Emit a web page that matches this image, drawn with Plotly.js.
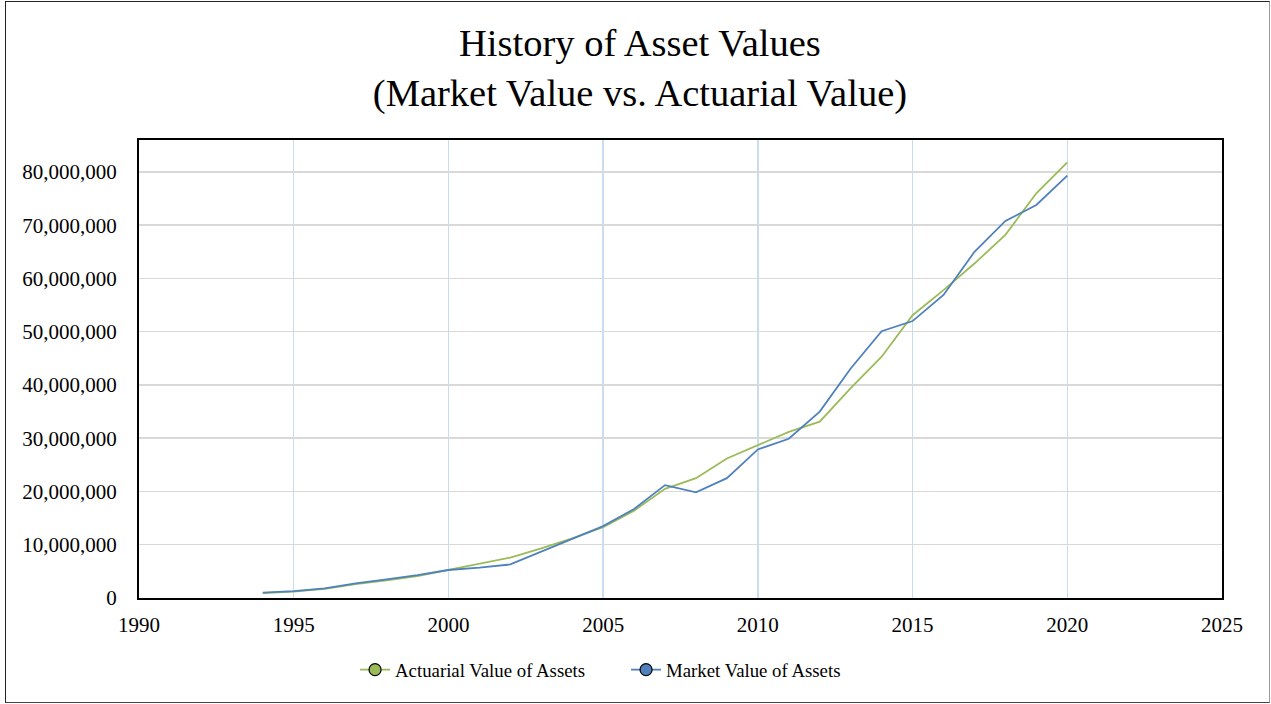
<!DOCTYPE html>
<html>
<head>
<meta charset="utf-8">
<script src="https://cdn.plot.ly/plotly-3.0.1.min.js"></script>
<style>
  html, body { margin: 0; padding: 0; background: #ffffff; }
  #wrap { position: relative; width: 1271px; height: 704px; }
  #chart { position: absolute; left: 0; top: 0; width: 1271px; height: 704px; }
  #frame { position: absolute; left: 5px; top: 1px; width: 1263px; height: 700px;
           border: 1.5px solid #222; border-right-color: #999; border-bottom-color: #444; pointer-events: none; }
</style>
</head>
<body>
<div id="wrap">
  <div id="chart"></div>
  <div id="frame"></div>
</div>
<script>
const years = [1994, 1995, 1996, 1997, 1998, 1999, 2000, 2001, 2002, 2003, 2004, 2005, 2006, 2007,
               2008, 2009, 2010, 2011, 2012, 2013, 2014, 2015, 2016, 2017, 2018, 2019, 2020];
const actuarialValue = [0.9e6, 1.2e6, 1.7e6, 2.6e6, 3.3e6, 4.1e6, 5.3e6, 6.4e6, 7.6e6, 9.3e6, 11.2e6, 13.3e6, 16.4e6, 20.5e6,
                        22.5e6, 26.2e6, 28.7e6, 31.2e6, 33.1e6, 39.4e6, 45.3e6, 53.1e6, 57.8e6, 62.8e6, 68.2e6, 76.0e6, 81.8e6];
const marketValue = [1.0e6, 1.3e6, 1.8e6, 2.75e6, 3.5e6, 4.3e6, 5.26e6, 5.7e6, 6.3e6, 8.7e6, 11.2e6, 13.5e6, 16.7e6, 21.2e6,
                     19.85e6, 22.5e6, 27.9e6, 29.9e6, 35.0e6, 43.1e6, 50.1e6, 52.0e6, 56.9e6, 65.0e6, 70.8e6, 73.8e6, 79.3e6];
const seriesNames = ["Actuarial Value of Assets", "Market Value of Assets"];
const xTickVals = [1990, 1995, 2000, 2005, 2010, 2015, 2020, 2025];
const yTickVals = [0, 10e6, 20e6, 30e6, 40e6, 50e6, 60e6, 70e6, 80e6];
const yTickText = ["0", "10,000,000", "20,000,000", "30,000,000", "40,000,000", "50,000,000", "60,000,000", "70,000,000", "80,000,000"];
const titleText = "History of Asset Values<br>(Market Value vs. Actuarial Value)";

const serif = "'Liberation Serif', 'Times New Roman', serif";

const traces = [
  {
    x: years, y: actuarialValue, name: seriesNames[0], type: "scatter", mode: "lines",
    line: { color: "#9BBB59", width: 1.8 },
    marker: { color: "#9BBB59", size: 12, line: { color: "#000", width: 1.2 } }
  },
  {
    x: years, y: marketValue, name: seriesNames[1], type: "scatter", mode: "lines",
    line: { color: "#4F81BD", width: 1.8 },
    marker: { color: "#4F81BD", size: 12, line: { color: "#000", width: 1.2 } }
  }
];

// legend entries: line + circle marker symbol only in the legend
const legendTraces = traces.map(t => ({
  x: [null], y: [null], name: t.name, type: "scatter", mode: "lines+markers",
  line: t.line, marker: t.marker, showlegend: true, hoverinfo: "skip"
}));
traces.forEach(t => t.showlegend = false);

const layout = {
  width: 1271, height: 704,
  paper_bgcolor: "#ffffff", plot_bgcolor: "#ffffff",
  margin: { l: 139, r: 49, t: 140, b: 106 },
  font: { family: serif, color: "#000", size: 21 },
  title: {
    text: titleText,
    font: { family: serif, size: 38.5, color: "#000" },
    x: 0.5035, xref: "container", xanchor: "center",
    y: 0.92, yref: "container", yanchor: "middle"
  },
  xaxis: {
    range: [1990, 2025],
    tickvals: xTickVals,
    ticktext: xTickVals.map(String),
    showgrid: true, gridcolor: "#C9DCF0", gridwidth: 1.5,
    zeroline: false,
    showline: true, linecolor: "#000", linewidth: 2, mirror: true,
    ticks: "outside", ticklen: 7, tickcolor: "rgba(0,0,0,0)",
    tickfont: { family: serif, size: 21, color: "#000" },
    fixedrange: true
  },
  yaxis: {
    range: [0, 86e6],
    tickvals: yTickVals,
    ticktext: yTickText,
    showgrid: true, gridcolor: "#D9D9D9", gridwidth: 1.5,
    zeroline: false,
    showline: true, linecolor: "#000", linewidth: 2, mirror: true,
    ticks: "outside", ticklen: 16, tickcolor: "rgba(0,0,0,0)",
    tickfont: { family: serif, size: 21, color: "#000" },
    fixedrange: true
  },
  legend: {
    orientation: "h",
    x: 0.1995, xanchor: "left",
    y: -0.157, yanchor: "middle",
    font: { family: serif, size: 18.8, color: "#000" },
    bgcolor: "rgba(0,0,0,0)",
    entrywidth: 226, entrywidthmode: "pixels"
  },
  showlegend: true
};

Plotly.newPlot("chart", traces.concat(legendTraces), layout, { displayModeBar: false, staticPlot: true });
</script>
</body>
</html>
